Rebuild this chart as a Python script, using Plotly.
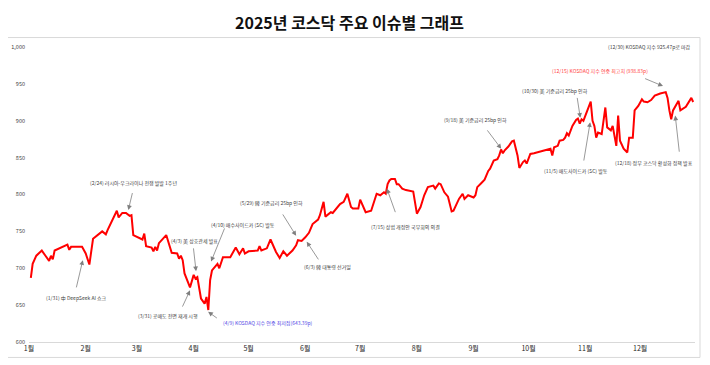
import datetime as dt
import plotly.graph_objects as go

# ---- data ----
dates = [
    "2025-01-02", "2025-01-03", "2025-01-05", "2025-01-08", "2025-01-10", "2025-01-12", "2025-01-13",
    "2025-01-14", "2025-01-15", "2025-01-18", "2025-01-21", "2025-01-22", "2025-01-23", "2025-01-24",
    "2025-01-30", "2025-02-01", "2025-02-03", "2025-02-05", "2025-02-10", "2025-02-12", "2025-02-13",
    "2025-02-18", "2025-02-19", "2025-02-21", "2025-02-23", "2025-02-25", "2025-02-26", "2025-02-27",
    "2025-03-04", "2025-03-05", "2025-03-06", "2025-03-09", "2025-03-10", "2025-03-11", "2025-03-12",
    "2025-03-13", "2025-03-17", "2025-03-18", "2025-03-20", "2025-03-23", "2025-03-24", "2025-03-25",
    "2025-03-26", "2025-03-27", "2025-03-30", "2025-04-01", "2025-04-02", "2025-04-03", "2025-04-04",
    "2025-04-05", "2025-04-07", "2025-04-08", "2025-04-09", "2025-04-10", "2025-04-11", "2025-04-14",
    "2025-04-15", "2025-04-17", "2025-04-19", "2025-04-21", "2025-04-24", "2025-04-25", "2025-04-26",
    "2025-04-28", "2025-04-29", "2025-05-01", "2025-05-06", "2025-05-07", "2025-05-08", "2025-05-11",
    "2025-05-13", "2025-05-16", "2025-05-18", "2025-05-20", "2025-05-22", "2025-05-25", "2025-05-27",
    "2025-05-28", "2025-05-30", "2025-06-01", "2025-06-03", "2025-06-05", "2025-06-08", "2025-06-09",
    "2025-06-11", "2025-06-12", "2025-06-15", "2025-06-16", "2025-06-18", "2025-06-20", "2025-06-22",
    "2025-06-24", "2025-06-26", "2025-06-27", "2025-06-30", "2025-07-01", "2025-07-04", "2025-07-07",
    "2025-07-10", "2025-07-12", "2025-07-14", "2025-07-15", "2025-07-16", "2025-07-17", "2025-07-18",
    "2025-07-20", "2025-07-21", "2025-07-22", "2025-07-24", "2025-07-26", "2025-07-30", "2025-08-01",
    "2025-08-03", "2025-08-05", "2025-08-07", "2025-08-10", "2025-08-11", "2025-08-13", "2025-08-14",
    "2025-08-16", "2025-08-18", "2025-08-20", "2025-08-21", "2025-08-24", "2025-08-26", "2025-08-27",
    "2025-08-29", "2025-09-01", "2025-09-02", "2025-09-03", "2025-09-05", "2025-09-07", "2025-09-09",
    "2025-09-10", "2025-09-12", "2025-09-14", "2025-09-15", "2025-09-16", "2025-09-17", "2025-09-18",
    "2025-09-20", "2025-09-22", "2025-09-23", "2025-09-25", "2025-09-26", "2025-09-27", "2025-09-28",
    "2025-09-29", "2025-09-30", "2025-10-02", "2025-10-04", "2025-10-13", "2025-10-14", "2025-10-15",
    "2025-10-17", "2025-10-18", "2025-10-20", "2025-10-21", "2025-10-22", "2025-10-23", "2025-10-24",
    "2025-10-25", "2025-10-27", "2025-10-28", "2025-10-29", "2025-10-30", "2025-10-31", "2025-11-02",
    "2025-11-03", "2025-11-04", "2025-11-05", "2025-11-06", "2025-11-07", "2025-11-08", "2025-11-10",
    "2025-11-12", "2025-11-13", "2025-11-15", "2025-11-16", "2025-11-18", "2025-11-19", "2025-11-20",
    "2025-11-22", "2025-11-24", "2025-11-25", "2025-11-27", "2025-11-28", "2025-11-30", "2025-12-02",
    "2025-12-03", "2025-12-05", "2025-12-07", "2025-12-09", "2025-12-11", "2025-12-12", "2025-12-15",
    "2025-12-16", "2025-12-17", "2025-12-18", "2025-12-19", "2025-12-22", "2025-12-23", "2025-12-26",
    "2025-12-29", "2025-12-30",
]
kosdaq = [
    687, 706, 717, 724, 717, 710, 717,
    712, 724, 727, 730, 732, 725, 729,
    729, 720, 705, 740, 750, 746, 752,
    778, 769, 775, 775, 771, 772, 745,
    739, 747, 730, 728, 723, 729, 724,
    734, 745, 738, 721, 720, 713, 717,
    711, 693, 674, 691, 686, 688, 675,
    659, 652, 661, 643.39, 684, 697, 706,
    700, 715, 715, 715, 728, 724, 719,
    727, 720, 723, 724, 730, 724, 727,
    739, 722, 714, 723, 717, 724, 731,
    738, 737, 742, 748, 760, 766, 772,
    790, 770, 776, 775, 781, 787, 790,
    801, 783, 781, 781, 793, 776, 778,
    801, 799, 803, 801, 814, 819, 821,
    821, 814, 814, 808, 806, 804, 774,
    783, 799, 810, 812, 808, 815, 814,
    803, 797, 777, 778, 794, 801, 794,
    799, 796, 799, 810, 815, 820, 832,
    835, 846, 848, 853, 861, 856, 860,
    865, 872, 873, 853, 836, 841, 844,
    846, 842, 855, 856, 862, 853, 864,
    866, 873, 874, 877, 883, 880, 887,
    893, 901, 903, 896, 902, 900, 913,
    919, 926, 900, 893, 877, 884, 882,
    918, 891, 887, 893, 866, 907, 873,
    862, 857, 877, 877, 914, 920, 929,
    926, 925, 928, 934, 936, 937, 938.83,
    931, 914, 902, 914, 927, 914, 919,
    931, 925.47,
]
month_ticks = ["2025-%02d-01" % m for m in range(1, 13)]
month_labels = ["%d월" % m for m in range(1, 13)]
y_ticks = [600, 650, 700, 750, 800, 850, 900, 950, 1000]

# annotations: text, text position (day-of-year, value), arrow tail, arrow tip, colour
events = [
    ("(1/31) 中 DeepSeek AI 쇼크", (26.2, 660), (25.7, 672), (29.4, 711), "#404040"),
    ("(2/24) 러시아-우크라이나 전쟁 발발 1주년", (56.9, 816), (56.7, 804), (54.3, 779), "#404040"),
    ("(4/3) 美 상호관세 발표", (90.5, 737), (89.8, 729), (91.3, 696), "#404040"),
    ("(4/10) 매수사이드카 (SC) 발동", (117.0, 759), (107.2, 756), (99.5, 709), "#404040"),
    ("(3/31) 공매도 전면 재개 시행", (75.7, 635), (83.5, 646), (88.0, 670), "#404040"),
    ("(4/9) KOSDAQ 지수 연중 최저점(643.39p)", (130.8, 626), (103.5, 631), (97.9, 641), "#4f46e5"),
    ("(5/29) 韓 기준금리 25bp 인하", (132.3, 788), (138.2, 775), (146.0, 744), "#404040"),
    ("(6/3) 韓 대통령 선거일", (163.2, 702), (158.7, 710), (151.8, 736), "#404040"),
    ("(7/15) 상법 개정안 국무회의 의결", (205.6, 756), (200.5, 774), (195.6, 808), "#404040"),
    ("(9/18) 美 기준금리 25bp 인하", (243.9, 901), (249.9, 889), (258.1, 862), "#404040"),
    ("(10/30) 美 기준금리 25bp 인하", (287.6, 940), (299.5, 933), (301.3, 904), "#404040"),
    ("(11/5) 매도사이드카 (SC) 발동", (298.9, 832), (303.1, 844), (306.7, 898), "#404040"),
    ("(12/18) 정부 코스닥 활성화 정책 발표", (341.7, 843), (355.5, 856), (353.2, 907), "#404040"),
    ("(12/15) KOSDAQ 지수 연중 최고치 (938.83p)", (312.2, 968), (335.9, 958), (346.5, 947), "#ff4040"),
    ("(12/30) KOSDAQ 지수 925.47p로 마감", (339.3, 1000), None, None, "#404040"),
]

FONT = "Noto Sans CJK KR"
start = dt.datetime(2025, 1, 1)

# the page body adds an 8px offset, so the figure is drawn 8px smaller
W, H = 702, 357
L, T, PW, PH = 21, 38.5, 666, 296


def day(d):
    return (start + dt.timedelta(days=d)).strftime("%Y-%m-%d %H:%M:%S")


fig = go.Figure()
fig.add_trace(go.Scatter(
    x=dates, y=kosdaq, mode="lines",
    line=dict(color="#ff0000", width=2),
    hoverinfo="x+y", showlegend=False,
))

annotations = []
for text, tpos, tail, tip, color in events:
    annotations.append(dict(
        x=day(tpos[0]), y=tpos[1], xref="x", yref="y", text=text, showarrow=False,
        font=dict(family=FONT, size=5, color=color), xanchor="center", yanchor="middle",
    ))
    if tail is not None:
        annotations.append(dict(
            x=day(tip[0]), y=tip[1], ax=day(tail[0]), ay=tail[1],
            xref="x", yref="y", axref="x", ayref="y", text="",
            showarrow=True, arrowhead=2, arrowsize=1.2, arrowwidth=0.8,
            arrowcolor="#7f7f7f", standoff=0, startstandoff=0,
        ))

fig.update_layout(
    width=W, height=H,
    margin=dict(l=L, r=W - L - PW, t=T, b=H - T - PH, autoexpand=False),
    paper_bgcolor="white", plot_bgcolor="white",
    title=dict(
        text="<b>2025년 코스닥 주요 이슈별 그래프</b>",
        x=341.5 / W, xanchor="center", y=1 - 15 / H, yanchor="middle",
        font=dict(family=FONT, size=16, color="#111111"),
    ),
    xaxis=dict(
        type="date", range=["2025-01-01", "2025-12-31"],
        tickvals=month_ticks, ticktext=month_labels,
        showgrid=False, zeroline=False, showline=True, linecolor="#d9d9d9", linewidth=1,
        ticks="", tickfont=dict(family=FONT, size=7, color="#262626"),
    ),
    yaxis=dict(
        range=[600, 1000], tickvals=y_ticks, tickformat=",",
        showgrid=False, zeroline=False, showline=False, ticks="",
        tickfont=dict(family=FONT, size=5.5, color="#404040"), ticklabelstandoff=3,
    ),
    annotations=annotations,
    shapes=[dict(
        type="rect", xref="paper", yref="paper",
        x0=(5 - 29) / PW, x1=(700 - 29) / PW,
        y0=(342.5 - 358) / PH, y1=(342.5 - 37) / PH,
        line=dict(color="#d9d9d9", width=1), fillcolor="rgba(0,0,0,0)", layer="below",
    )],
)

fig.write_html("out.html")
